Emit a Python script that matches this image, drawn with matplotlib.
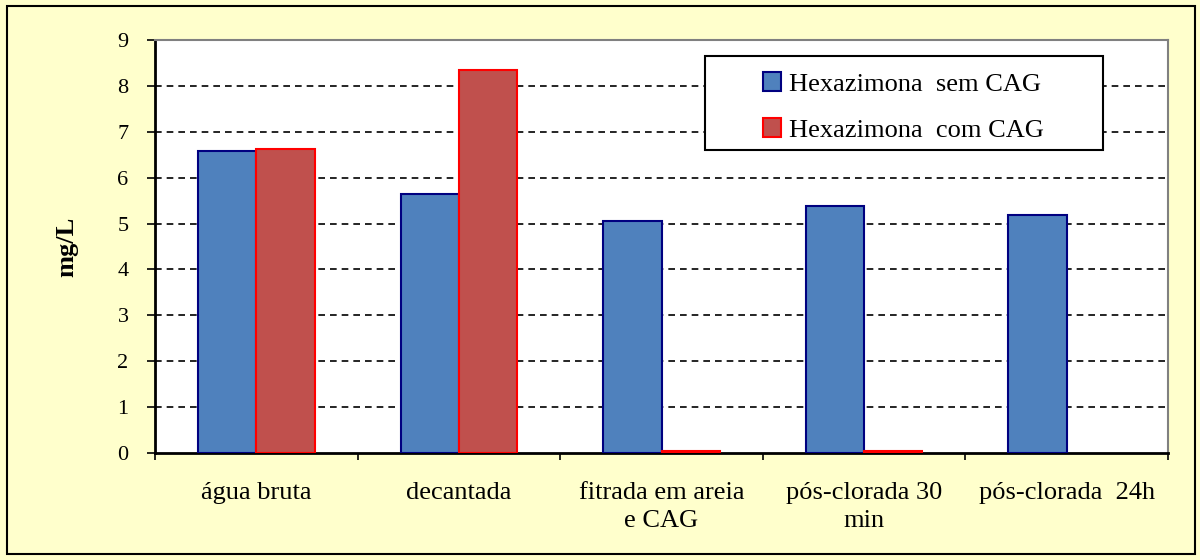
import numpy as np
import matplotlib
matplotlib.use("Agg")
import matplotlib.pyplot as plt
from matplotlib.patches import Rectangle

categories = ["água bruta", "decantada", "fitrada em areia\ne CAG",
              "pós-clorada 30\nmin", "pós-clorada  24h"]
sem_cag = [6.58, 5.65, 5.05, 5.39, 5.19]
com_cag = [6.62, 8.34, 0.05, 0.05, np.nan]
series_names = ["Hexazimona  sem CAG", "Hexazimona  com CAG"]

plt.rcParams["font.family"] = ["Liberation Serif", "DejaVu Serif"]

fig = plt.figure(figsize=(12, 5.6), dpi=100)
fig.patch.set_facecolor("#FFFFCC")
fig.patches.append(Rectangle((7 / 1200, 6 / 560), 1188 / 1200, 548 / 560,
                             transform=fig.transFigure, fill=False,
                             edgecolor="black", linewidth=1.5))

ax = fig.add_axes([155 / 1200, 107 / 560, 1013 / 1200, 413 / 560])
ax.set_facecolor("white")

x = np.arange(len(categories))
w = 0.288
ax.bar(x - w / 2, sem_cag, w, color="#4F81BD", edgecolor="#000080",
       linewidth=1.5, label=series_names[0], zorder=3)
ax.bar(x + w / 2, com_cag, w, color="#C0504D", edgecolor="#FF0000",
       linewidth=1.5, label=series_names[1], zorder=3)

ax.set_xlim(-0.5, len(categories) - 0.5)
ax.set_ylim(0, 9)
ax.set_yticks(range(10))
ax.tick_params(axis="y", labelsize=16, length=6, width=1.2, direction="out", pad=13)

# category labels centred, ticks on category boundaries
ax.set_xticks(x)
ax.set_xticklabels(categories, fontsize=19, linespacing=1.35)
ax.tick_params(axis="x", which="major", length=0, pad=21)
ax.set_xticks(np.arange(-0.5, len(categories)), minor=True)
ax.tick_params(axis="x", which="minor", length=5, width=1.2, direction="out")

for yv in range(1, 9):
    ax.axhline(yv, color="black", linestyle=(0, (4, 3)), linewidth=1.2, zorder=1)

ax.spines["left"].set_linewidth(2)
ax.spines["bottom"].set_linewidth(2)
ax.spines["top"].set_color("#808080")
ax.spines["right"].set_color("#808080")
ax.spines["top"].set_linewidth(1.5)
ax.spines["right"].set_linewidth(1.5)

ax.set_ylabel("mg/L", fontsize=19, fontweight="bold", labelpad=28)

# legend box drawn by hand so it can be sized like the original
ax.add_patch(Rectangle((0.543, 0.734), 0.393, 0.227, transform=ax.transAxes,
                       facecolor="white", edgecolor="black", linewidth=1.5,
                       zorder=4))
leg = ax.legend(loc="center", bbox_to_anchor=(0.739, 0.838),
                fontsize=19, frameon=False, handlelength=0.7,
                handleheight=0.7, handletextpad=0.3, labelspacing=0.85)
leg.set_zorder(5)

fig.savefig("out.png", dpi=100, facecolor=fig.get_facecolor())
